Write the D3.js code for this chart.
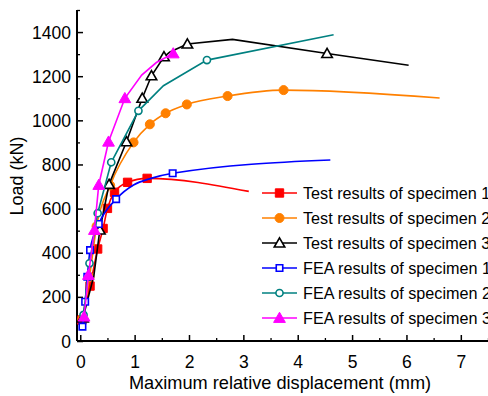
<!DOCTYPE html>
<html>
<head>
<meta charset="utf-8">
<script src="https://cdn.jsdelivr.net/npm/d3@7"></script>
<style>
  body { margin: 0; background: #fff; }
  svg { display: block; font-family: "Liberation Sans", Arial, sans-serif; }
</style>
</head>
<body>
<svg id="chart" width="488" height="396"></svg>
<script>
// Series data (displacement mm, load kN)
var test1X = [0.03, 0.18, 0.32, 0.42, 0.50, 0.63, 0.87, 1.23, 3.10];
var test1Y = [95, 249, 417, 510, 601, 674, 719, 737, 678];
var test1Marks = [0, 1, 2, 3, 4, 5, 6, 7];

var test2X = [0.04, 0.17, 0.30, 0.55, 0.98, 1.28, 1.57, 1.96, 2.71, 3.74, 6.61];
var test2Y = [100, 290, 520, 705, 900, 982, 1032, 1072, 1110, 1137, 1101];
var test2Marks = [0, 1, 2, 3, 4, 5, 6, 7, 8, 9];

var test3X = [0.05, 0.25, 0.36, 0.53, 0.85, 1.14, 1.31, 1.54, 1.65, 1.97, 2.80, 4.54, 6.04];
var test3Y = [105, 295, 503, 710, 903, 1100, 1202, 1288, 1310, 1346, 1367, 1303, 1250];
var test3Marks = [0, 2, 3, 4, 5, 6, 7, 9, 11];

var fea1X = [0.04, 0.09, 0.13, 0.18, 0.34, 0.66, 0.98, 1.30, 1.70, 4.60];
var fea1Y = [65, 178, 291, 412, 530, 643, 707, 737, 760, 820];
var fea1Marks = [0, 1, 2, 3, 4, 5, 8];

var fea2X = [0.06, 0.17, 0.32, 0.57, 1.07, 1.53, 2.33, 4.66];
var fea2Y = [118, 352, 579, 810, 1043, 1157, 1273, 1388];
var fea2Marks = [0, 1, 2, 3, 4, 6];

var fea3X = [0.07, 0.15, 0.26, 0.34, 0.52, 0.82, 1.13, 1.40, 1.71];
var fea3Y = [110, 299, 503, 707, 903, 1100, 1205, 1262, 1303];
var fea3Marks = [0, 1, 2, 3, 4, 5, 8];

var seriesNames = [
  "Test results of specimen 1",
  "Test results of specimen 2",
  "Test results of specimen 3",
  "FEA results of specimen 1",
  "FEA results of specimen 2",
  "FEA results of specimen 3"
];

var xTicks = [0, 1, 2, 3, 4, 5, 6, 7];
var yTicks = [0, 200, 400, 600, 800, 1000, 1200, 1400];

var series = [
  {x: test1X, y: test1Y, marks: test1Marks, color: "#ff0000", shape: "square", fill: true, smooth: true},
  {x: test2X, y: test2Y, marks: test2Marks, color: "#ff8000", shape: "circle", fill: true, smooth: true},
  {x: test3X, y: test3Y, marks: test3Marks, color: "#000000", shape: "triangle", fill: false, smooth: false},
  {x: fea1X, y: fea1Y, marks: fea1Marks, color: "#0000ff", shape: "square", fill: false, smooth: true},
  {x: fea2X, y: fea2Y, marks: fea2Marks, color: "#008080", shape: "circle", fill: false, smooth: false},
  {x: fea3X, y: fea3Y, marks: fea3Marks, color: "#ff00ff", shape: "triangle", fill: true, smooth: false}
];

var svg = d3.select("#chart");

var x = d3.scaleLinear().domain([-0.06, 7.5]).range([77, 488]);
var y = d3.scaleLinear().domain([0, 1500]).range([341, 10]);

// axes, ticks point inward
var xMinor = d3.range(0, 7.6, 0.5).filter(function(d) { return d % 1 !== 0; });
var yMinor = d3.range(100, 1600, 200);

svg.append("g")
    .attr("transform", "translate(0,341)")
    .call(d3.axisBottom(x).tickValues(xMinor).tickSize(-3).tickFormat(""))
    .call(function(g) { g.select(".domain").remove(); })
    .selectAll("line").attr("stroke-width", 1.3);

svg.append("g")
    .attr("transform", "translate(0,341)")
    .call(d3.axisBottom(x).tickValues(xTicks).tickSize(-6).tickPadding(10).tickFormat(d3.format("d")))
    .call(function(g) {
      g.select(".domain").attr("d", "M77,0H488").attr("stroke-width", 2);
      g.selectAll("line").attr("stroke-width", 1.5);
      g.selectAll("text").attr("font-size", 17.5).attr("fill", "#000").attr("dy", "0.95em");
    });

svg.append("g")
    .attr("transform", "translate(77,0)")
    .call(d3.axisLeft(y).tickValues(yMinor).tickSize(-3).tickFormat(""))
    .call(function(g) { g.select(".domain").remove(); })
    .selectAll("line").attr("stroke-width", 1.3);

svg.append("g")
    .attr("transform", "translate(77,0)")
    .call(d3.axisLeft(y).tickValues(yTicks).tickSize(-6).tickPadding(6).tickFormat(d3.format("d")))
    .call(function(g) {
      g.select(".domain").attr("d", "M0,10V341").attr("stroke-width", 2);
      g.selectAll("line").attr("stroke-width", 1.5);
      g.selectAll("text").attr("font-size", 17.5).attr("fill", "#000").attr("dy", "0.35em");
    });

svg.append("text")
    .attr("x", 280)
    .attr("y", 389)
    .attr("text-anchor", "middle")
    .attr("font-size", 18.2)
    .text("Maximum relative displacement (mm)");

svg.append("text")
    .attr("transform", "translate(23,176) rotate(-90)")
    .attr("text-anchor", "middle")
    .attr("font-size", 18)
    .text("Load (kN)");

var symbolFor = function(shape, cx, cy, fill) {
  var size = shape === "square" ? (fill ? 70 : 42) : shape === "circle" ? (fill ? 64 : 40) : (fill ? 60 : 48);
  var type = shape === "square" ? d3.symbolSquare : shape === "circle" ? d3.symbolCircle : d3.symbolTriangle;
  var dy = shape === "triangle" ? 1 : 0;
  return {d: d3.symbol().type(type).size(size)(), t: "translate(" + cx + "," + (cy + dy) + ")"};
};

var drawMarker = function(g, s, cx, cy) {
  var m = symbolFor(s.shape, cx, cy, s.fill);
  g.append("path")
      .attr("d", m.d)
      .attr("transform", m.t)
      .attr("fill", s.fill ? s.color : "#fff")
      .attr("stroke", s.color)
      .attr("stroke-width", s.fill ? 1 : 1.6);
};

var plot = svg.append("g");

series.forEach(function(s) {
  var pts = s.x.map(function(d, i) { return [d, s.y[i]]; });
  var line = d3.line()
      .x(function(d) { return x(d[0]); })
      .y(function(d) { return y(d[1]); })
      .curve(s.smooth ? d3.curveMonotoneX : d3.curveLinear);

  var g = plot.append("g");
  g.append("path")
      .attr("d", line(pts))
      .attr("fill", "none")
      .attr("stroke", s.color)
      .attr("stroke-width", 1.6);

  s.marks.forEach(function(i) {
    drawMarker(g, s, x(pts[i][0]), y(pts[i][1]));
  });
});

// legend
var legend = svg.append("g");
seriesNames.forEach(function(name, i) {
  var s = series[i];
  var ly = 193 + i * 25;
  var row = legend.append("g");
  row.append("line")
      .attr("x1", 262).attr("x2", 297)
      .attr("y1", ly).attr("y2", ly)
      .attr("stroke", s.color)
      .attr("stroke-width", 1.6);
  drawMarker(row, s, 279.5, ly);
  row.append("text")
      .attr("x", 303)
      .attr("y", ly)
      .attr("dy", "0.36em")
      .attr("font-size", 16.2)
      .text(name);
});
</script>
</body>
</html>
